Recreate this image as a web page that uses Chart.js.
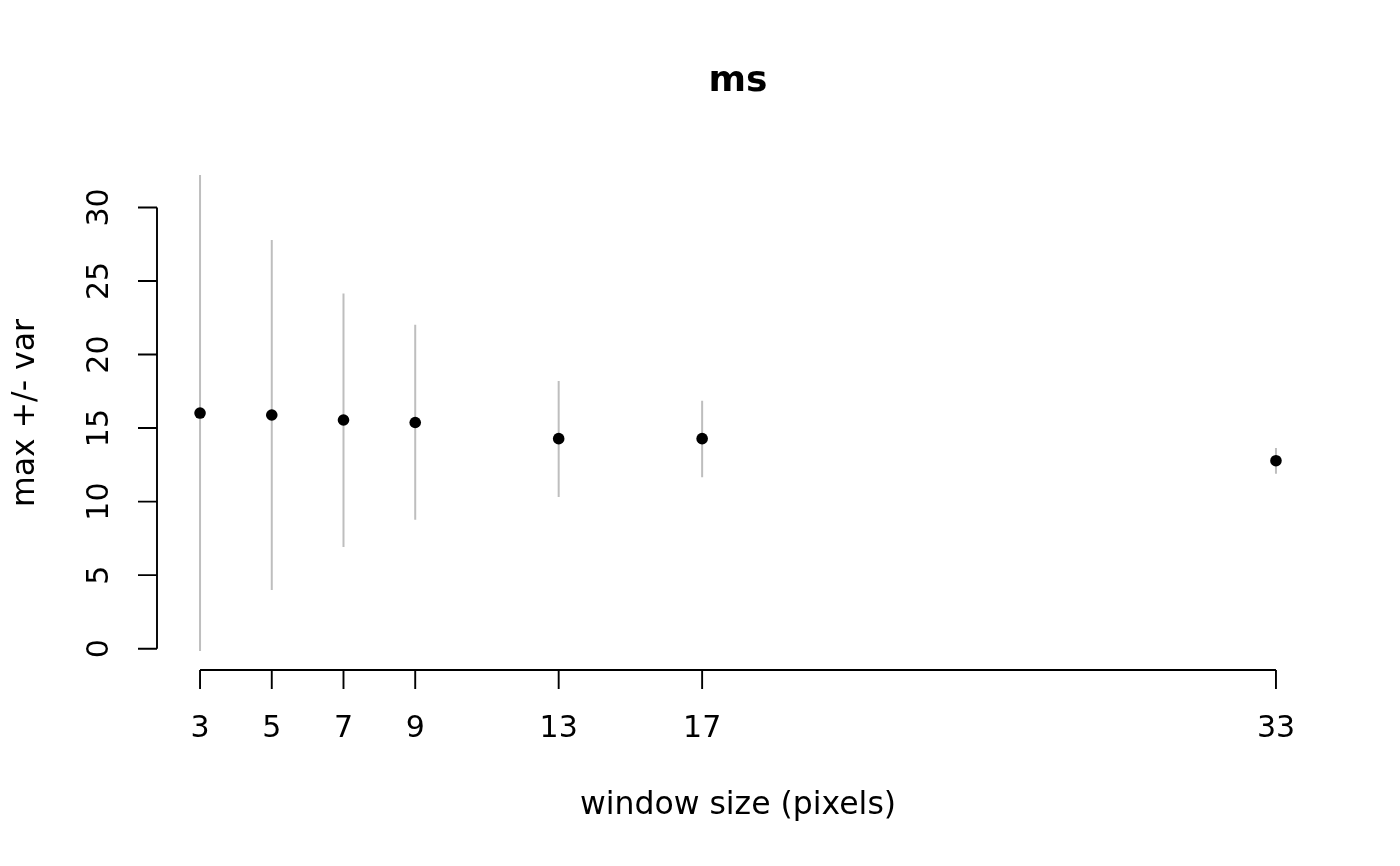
<!DOCTYPE html>
<html>
<head>
<meta charset="utf-8">
<script src="https://cdn.jsdelivr.net/npm/chart.js@4/dist/chart.umd.min.js"></script>
<style>
  html, body { margin: 0; padding: 0; background: #fff; }
  #wrap { width: 1400px; height: 866px; }
</style>
</head>
<body>
<div id="wrap"><canvas id="grafica" width="1400" height="866"></canvas></div>
<script>
// datos
const windowSizes = [3, 5, 7, 9, 13, 17, 33];
const maxValues   = [16.02, 15.89, 15.55, 15.38, 14.28, 14.28, 12.78];
const lowValues   = [-0.16, 3.99, 6.91, 8.77, 10.31, 11.65, 11.90];
const highValues  = [32.2, 27.78, 24.15, 22.03, 18.2, 16.86, 13.64];
const xTicks = [3, 5, 7, 9, 13, 17, 33];
const yTicks = [0, 5, 10, 15, 20, 25, 30];

const FONT = '"DejaVu Sans", sans-serif';
const BASE = 30;

// segmentos verticales (min..max) separados por huecos
const barras = [];
windowSizes.forEach((x, i) => {
    barras.push({ x: x, y: lowValues[i] });
    barras.push({ x: x, y: highValues[i] });
    barras.push({ x: x, y: null });
});

// ejes estilo R dibujados con las escalas del grafico
const ejesR = {
    id: 'ejesR',
    afterDraw(chart) {
        const ctx = chart.ctx;
        const xs = chart.scales.x;
        const ys = chart.scales.y;
        const area = chart.chartArea;
        ctx.save();
        ctx.strokeStyle = '#000';
        ctx.fillStyle = '#000';
        ctx.lineWidth = 1.9;
        ctx.lineCap = 'butt';

        // eje x
        const xa = xs.getPixelForValue(xTicks[0]);
        const xb = xs.getPixelForValue(xTicks[xTicks.length - 1]);
        const yBase = area.bottom;
        ctx.beginPath();
        ctx.moveTo(xa, yBase);
        ctx.lineTo(xb, yBase);
        xTicks.forEach(t => {
            const px = xs.getPixelForValue(t);
            ctx.moveTo(px, yBase);
            ctx.lineTo(px, yBase + 19);
        });
        ctx.stroke();
        ctx.font = BASE + 'px ' + FONT;
        ctx.textAlign = 'center';
        ctx.textBaseline = 'middle';
        xTicks.forEach(t => {
            ctx.fillText(String(t), xs.getPixelForValue(t), 729);
        });

        // eje y
        const ya = ys.getPixelForValue(yTicks[0]);
        const yb = ys.getPixelForValue(yTicks[yTicks.length - 1]);
        const xBase = area.left;
        ctx.beginPath();
        ctx.moveTo(xBase, ya);
        ctx.lineTo(xBase, yb);
        yTicks.forEach(t => {
            const py = ys.getPixelForValue(t);
            ctx.moveTo(xBase, py);
            ctx.lineTo(xBase - 19, py);
        });
        ctx.stroke();
        yTicks.forEach(t => {
            ctx.save();
            ctx.translate(100, ys.getPixelForValue(t));
            ctx.rotate(-Math.PI / 2);
            ctx.fillText(String(t), 0, 0);
            ctx.restore();
        });

        // titulos
        const cx = (area.left + area.right) / 2;
        const cy = (area.top + area.bottom) / 2;
        ctx.font = '31.5px ' + FONT;
        ctx.fillText('window size (pixels)', cx, 806);
        ctx.save();
        ctx.translate(26, cy);
        ctx.rotate(-Math.PI / 2);
        ctx.fillText('max +/- var', 0, 0);
        ctx.restore();
        ctx.font = 'bold ' + Math.round(BASE * 1.2) + 'px ' + FONT;
        ctx.fillText('ms', cx, 82);
        ctx.restore();
    }
};

new Chart(document.getElementById('grafica'), {
    type: 'scatter',
    data: {
        datasets: [
            {
                label: 'var',
                type: 'line',
                data: barras,
                borderColor: '#BEBEBE',
                borderWidth: 2,
                pointRadius: 0,
                spanGaps: false,
                fill: false,
                tension: 0,
                order: 2
            },
            {
                label: 'max',
                data: windowSizes.map((x, i) => ({ x: x, y: maxValues[i] })),
                backgroundColor: '#000',
                borderColor: '#000',
                pointRadius: 5.8,
                borderWidth: 0,
                order: 1
            }
        ]
    },
    options: {
        responsive: false,
        animation: false,
        layout: { padding: { left: 157, right: 81, top: 156, bottom: 196 } },
        plugins: {
            legend: { display: false },
            tooltip: { enabled: false },
            title: { display: false }
        },
        scales: {
            x: { type: 'linear', min: 1.8, max: 34.2, display: false },
            y: { type: 'linear', min: -1.45, max: 33.5, display: false }
        }
    },
    plugins: [ejesR]
});
</script>
</body>
</html>
